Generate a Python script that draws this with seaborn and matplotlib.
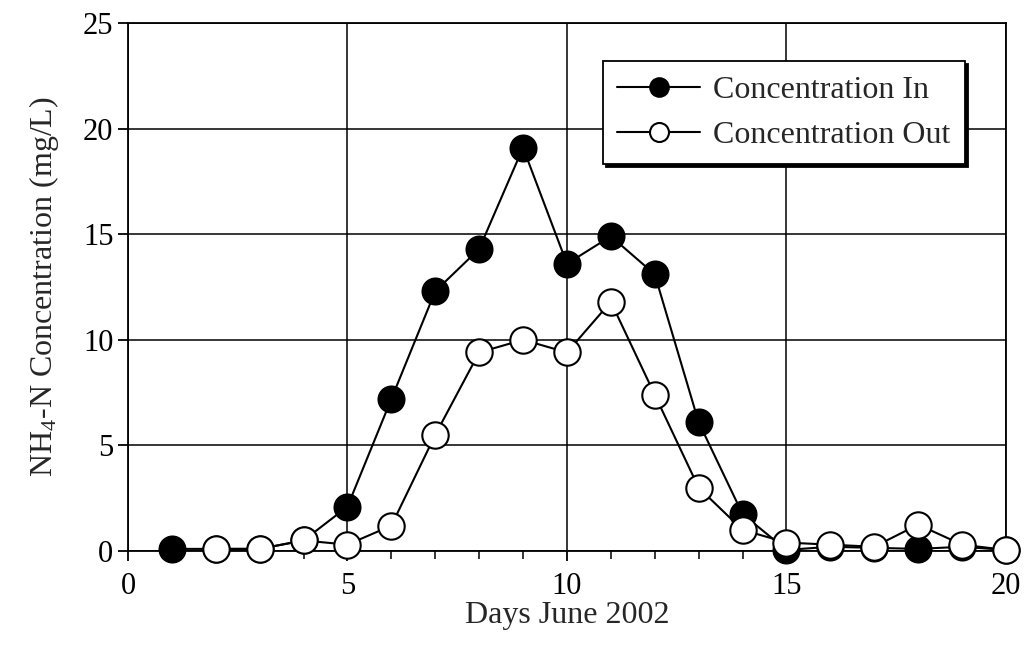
import matplotlib
matplotlib.use("Agg")
import matplotlib.pyplot as plt
import seaborn as sns
import pandas as pd
from matplotlib.ticker import MultipleLocator

days_in = [1, 2, 3, 4, 5, 6, 7, 8, 9, 10, 11, 12, 13, 14, 15, 16, 17, 18, 19, 20]
conc_in = [0.1, 0.1, 0.1, 0.5, 2.1, 7.2, 12.3, 14.3, 19.1, 13.6, 14.9, 13.1, 6.1, 1.75, 0.05, 0.2, 0.15, 0.1, 0.2, 0.05]
days_out = [2, 3, 4, 5, 6, 7, 8, 9, 10, 11, 12, 13, 14, 15, 16, 17, 18, 19, 20]
conc_out = [0.1, 0.1, 0.5, 0.3, 1.2, 5.5, 9.4, 10.0, 9.4, 11.8, 7.4, 3.0, 1.0, 0.4, 0.3, 0.2, 1.25, 0.3, 0.05]
x_ticks = [0, 5, 10, 15, 20]
y_ticks = [0, 5, 10, 15, 20, 25]

sns.set_style("white")
plt.rcParams["font.family"] = ["Liberation Serif", "DejaVu Serif"]
plt.rcParams["mathtext.fontset"] = "custom"
plt.rcParams["mathtext.rm"] = "Liberation Serif"
plt.rcParams["mathtext.it"] = "Liberation Serif:italic"

fig = plt.figure(figsize=(10.28, 6.53), dpi=100)
ax = fig.add_axes([0.1245, 0.1562, 0.854, 0.8086])

df_in = pd.DataFrame({"day": days_in, "conc": conc_in})
df_out = pd.DataFrame({"day": days_out, "conc": conc_out})

sns.lineplot(data=df_in, x="day", y="conc", ax=ax, color="black", lw=1.5,
             marker="o", markersize=19, markerfacecolor="black",
             markeredgecolor="black", markeredgewidth=1.2,
             label="Concentration In", zorder=3, clip_on=False)
sns.lineplot(data=df_out, x="day", y="conc", ax=ax, color="black", lw=1.5,
             marker="o", markersize=19, markerfacecolor="white",
             markeredgecolor="black", markeredgewidth=1.5,
             label="Concentration Out", zorder=4, clip_on=False)

ax.set_xlim(0, 20)
ax.set_ylim(0, 25)
ax.set_xticks(x_ticks)
ax.set_yticks(y_ticks)
ax.xaxis.set_minor_locator(MultipleLocator(1))
ax.grid(True, which="major", color="black", lw=1.1)
ax.set_axisbelow(True)
for s in ax.spines.values():
    s.set_visible(True)
    s.set_color("black")
    s.set_linewidth(1.3)
ax.tick_params(axis="both", which="major", direction="out", length=7, width=1.3,
               labelsize=22, colors="black", bottom=True, left=True)
ax.tick_params(axis="x", which="major", pad=8)
ax.tick_params(axis="x", which="minor", direction="out", length=6, width=1.3, bottom=True)

ax.set_xlabel("Days June 2002", fontsize=23, labelpad=0)
ax.set_ylabel("NH$_4$-N Concentration (mg/L)", fontsize=23, labelpad=16)

leg = ax.legend(loc="upper left", bbox_to_anchor=(0.541, 0.928), fontsize=23,
                frameon=True, fancybox=False, shadow={"color": "black", "alpha": 1.0},
                edgecolor="black", framealpha=1.0, markerscale=0.72,
                handlelength=2.6, borderpad=0.45, labelspacing=0.5, handletextpad=0.4,
                borderaxespad=0)
leg.get_frame().set_linewidth(1.3)
leg.set_zorder(10)

fig.savefig("out.png", dpi=100)
